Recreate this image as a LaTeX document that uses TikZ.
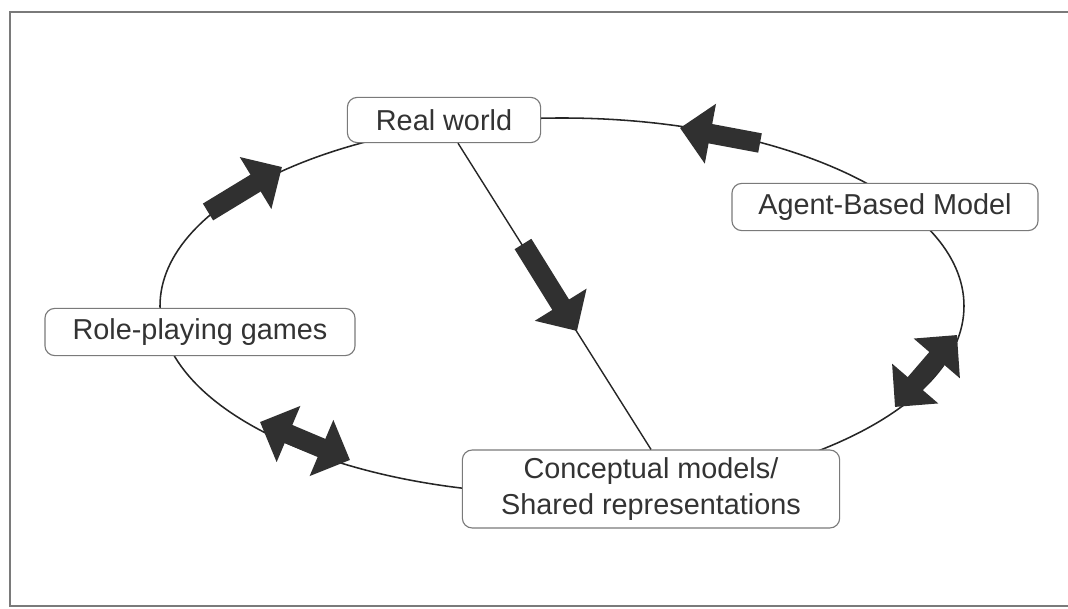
\documentclass[tikz,border=0pt]{standalone}
\usepackage{fontspec}
\setmainfont{Liberation Sans}
\usetikzlibrary{arrows.meta, positioning}

\definecolor{boxgray}{HTML}{7A7A7A}
\definecolor{textgray}{HTML}{333333}
\definecolor{arrowgray}{HTML}{303030}

\tikzset{
    box/.style={draw=boxgray, line width=0.8pt, rounded corners=7pt, fill=white,
        text=textgray, font=\fontsize{20.5}{25}\selectfont, align=center},
    loopline/.style={line width=1.1pt, draw=black!85},
    blockarrow/.style={line width=14pt, draw=arrowgray, -{Triangle[length=22pt, width=42pt]}},
    twoway/.style={line width=14pt, draw=arrowgray, {Triangle[length=22pt, width=42pt]}-{Triangle[length=22pt, width=42pt]}}
}

\begin{document}
\begin{tikzpicture}[x=0.025cm, y=-0.025cm]
    \useasboundingbox (0,0) rectangle (1068,609);
    % Frame
    \draw[boxgray, line width=1.4pt] (1068,12) -- (10,12) -- (10,606) -- (1068,606);

    % Cycle
    \draw[loopline] (562,306) ellipse [x radius=402, y radius=188];

    % Boxes on the cycle
    \node[box, minimum width=4.83cm, minimum height=1.13cm] (rw) at (444,120) {Real world};
    \node[box, minimum width=7.65cm, minimum height=1.18cm] (abm) at (885,207) {Agent-Based Model};
    \node[box, minimum width=7.75cm, minimum height=1.18cm] (rpg) at (200,332) {Role-playing games};
    \node[box, minimum width=9.43cm, minimum height=1.95cm] (cm) at (651,489) {Conceptual models/\\Shared representations};

    % Link across the cycle
    \draw[line width=1pt, black!85] ([xshift=0.35cm]rw.south) -- (cm.north);

    % Arrow ends
    \coordinate (ul0) at (208,212);
    \coordinate (ul1) at (282,167);
    \coordinate (ur0) at (760,143);
    \coordinate (ur1) at (680,128);
    \coordinate (md0) at (523,244);
    \coordinate (md1) at (577,331);
    \coordinate (rt0) at (895,407);
    \coordinate (rt1) at (957,335);
    \coordinate (lw0) at (260,422);
    \coordinate (lw1) at (350,460);

    % Block arrows
    \draw[blockarrow] (ul0) -- (ul1);
    \draw[blockarrow] (ur0) -- (ur1);
    \draw[blockarrow] (md0) -- (md1);
    \draw[twoway] (rt0) -- (rt1);
    \draw[twoway] (lw0) -- (lw1);
\end{tikzpicture}
\end{document}
